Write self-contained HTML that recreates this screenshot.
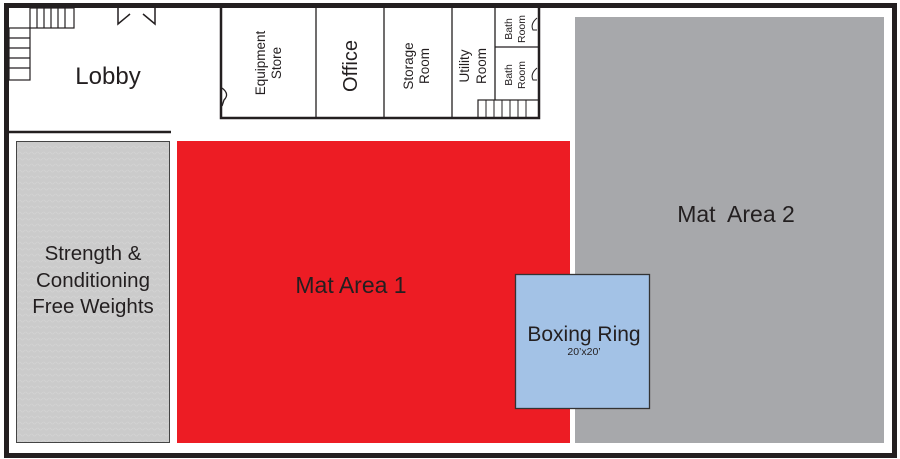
<!DOCTYPE html>
<html><head><meta charset="utf-8"><style>
html,body{margin:0;padding:0;background:#fff;width:900px;height:459px;overflow:hidden}
text{font-family:"Liberation Sans",sans-serif;fill:#231f20}
</style></head><body>
<svg width="900" height="459" viewBox="0 0 900 459" xmlns="http://www.w3.org/2000/svg">
<defs>
<pattern id="tex" width="6" height="6" patternUnits="userSpaceOnUse">
<rect width="6" height="6" fill="#cbcbcb"/>
<path d="M0 3 Q1.5 1 3 3 T6 3" stroke="#d3d3d3" stroke-width="0.8" fill="none"/>
</pattern>
</defs>
<rect x="0" y="0" width="900" height="459" fill="#fff"/>
<rect x="6.5" y="5.5" width="888" height="450" fill="none" stroke="#231f20" stroke-width="5"/>
<line x1="9" y1="132" x2="171" y2="132" stroke="#231f20" stroke-width="2.5"/>
<g stroke="#231f20" stroke-width="1.2" fill="none">
<rect x="30" y="8" width="44" height="20"/>
<line x1="37" y1="8" x2="37" y2="28"/><line x1="44" y1="8" x2="44" y2="28"/><line x1="51" y1="8" x2="51" y2="28"/><line x1="58" y1="8" x2="58" y2="28"/><line x1="65" y1="8" x2="65" y2="28"/>
<rect x="9" y="28" width="21" height="52"/>
<line x1="9" y1="38" x2="30" y2="38"/><line x1="9" y1="48" x2="30" y2="48"/><line x1="9" y1="58" x2="30" y2="58"/><line x1="9" y1="68" x2="30" y2="68"/>
<path d="M118 8 V24 L130 14 M155 8 V24 L143 14" stroke-width="1.5"/>
</g>
<g stroke="#231f20" fill="none">
<path d="M221 8 V118 H539 V8" stroke-width="2.5"/>
<line x1="316" y1="8" x2="316" y2="118" stroke-width="1.3"/>
<line x1="384" y1="8" x2="384" y2="118" stroke-width="1.3"/>
<line x1="452" y1="8" x2="452" y2="118" stroke-width="1.3"/>
<line x1="495" y1="8" x2="495" y2="100" stroke-width="1.3"/>
<line x1="495" y1="47" x2="539" y2="47" stroke-width="1.3"/>
<rect x="478" y="100" width="61" height="18" stroke-width="1.2"/>
<line x1="486" y1="100" x2="486" y2="118" stroke-width="1"/><line x1="494" y1="100" x2="494" y2="118" stroke-width="1"/><line x1="502" y1="100" x2="502" y2="118" stroke-width="1"/><line x1="510" y1="100" x2="510" y2="118" stroke-width="1"/><line x1="518" y1="100" x2="518" y2="118" stroke-width="1"/><line x1="526" y1="100" x2="526" y2="118" stroke-width="1"/>
<path d="M222 88 Q230 94 224 100 L222 106" stroke-width="1.3"/>
<path d="M537 18 Q530 24 533 30 L537 30" stroke-width="1"/>
<path d="M537 68 Q530 74 533 80 L537 80" stroke-width="1"/>
</g>
<rect x="16.5" y="141.5" width="153" height="301" fill="url(#tex)" stroke="#444" stroke-width="1"/>
<rect x="177" y="141" width="393" height="302" fill="#ed1c24"/>
<rect x="575" y="17" width="309" height="426" fill="#a7a8ab"/>
<rect x="515.5" y="274.5" width="134" height="134" fill="#a3c2e6" stroke="#333" stroke-width="1.3"/>
<text x="108" y="84" font-size="24" text-anchor="middle">Lobby</text>
<text x="93" y="260" font-size="20.5" text-anchor="middle">Strength &amp;</text>
<text x="93" y="287" font-size="20.5" text-anchor="middle">Conditioning</text>
<text x="93" y="313" font-size="20.5" text-anchor="middle">Free Weights</text>
<text x="351" y="293" font-size="23" text-anchor="middle">Mat Area 1</text>
<text x="736" y="222" font-size="23" text-anchor="middle" xml:space="preserve">Mat  Area 2</text>
<text x="584" y="341" font-size="21" text-anchor="middle">Boxing Ring</text>
<text x="584" y="355" font-size="10.5" text-anchor="middle">20’x20’</text>
<g font-size="13.5" text-anchor="middle">
<text transform="translate(265,63) rotate(-90)">Equipment</text>
<text transform="translate(281,63) rotate(-90)">Store</text>
<text transform="translate(357,66) rotate(-90)" font-size="20">Office</text>
<text transform="translate(413,66) rotate(-90)">Storage</text>
<text transform="translate(429,66) rotate(-90)">Room</text>
<text transform="translate(469,66) rotate(-90)">Utility</text>
<text transform="translate(486,66) rotate(-90)">Room</text>
<text transform="translate(512,29) rotate(-90)" font-size="10.5">Bath</text>
<text transform="translate(525,29) rotate(-90)" font-size="10.5">Room</text>
<text transform="translate(512,75) rotate(-90)" font-size="10.5">Bath</text>
<text transform="translate(525,75) rotate(-90)" font-size="10.5">Room</text>
</g>
</svg>
</body></html>
